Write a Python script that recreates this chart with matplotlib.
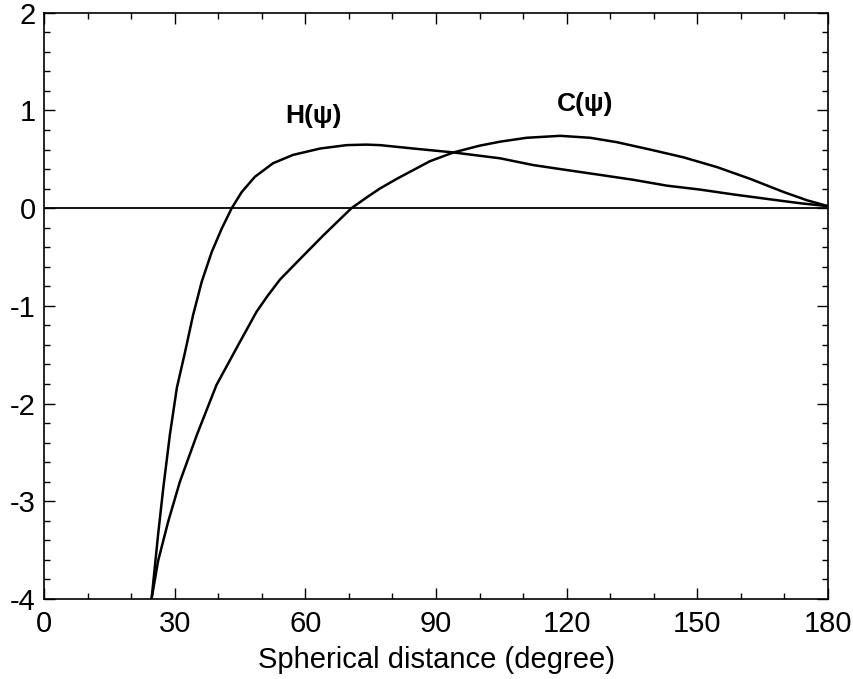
import matplotlib
matplotlib.use("Agg")
import matplotlib.pyplot as plt
from matplotlib.ticker import MultipleLocator

plt.rcParams['font.family'] = ['Liberation Sans', 'DejaVu Sans']
plt.rcParams['axes.unicode_minus'] = False

# Data
h_x = [24.7, 26.2, 27.4, 28.9, 30.5, 32.4, 34.2, 36.2, 38.5, 40.8, 43.1, 45.4,
       48.4, 52.6, 57.2, 63.4, 69.5, 74.0, 77.1, 84.8, 94.0, 104.7, 112.4, 120.0,
       127.7, 135.3, 143.0, 150.6, 158.3, 165.9, 173.6, 180.0]
h_y = [-4.0, -3.34, -2.86, -2.32, -1.84, -1.47, -1.10, -0.755, -0.45, -0.21, 0.0, 0.165,
       0.32, 0.46, 0.545, 0.61, 0.645, 0.65, 0.645, 0.61, 0.57, 0.51, 0.44, 0.39,
       0.34, 0.29, 0.23, 0.19, 0.14, 0.095, 0.05, 0.02]

c_x = [24.7, 26.2, 28.5, 31.2, 35.1, 39.6, 44.6, 48.8, 51.3, 54.2, 58.8, 64.1,
       70.6, 74.1, 77.1, 81.0, 88.6, 94.0, 100.1, 104.7, 110.8, 118.5, 125.4,
       131.5, 139.1, 146.8, 154.5, 162.1, 169.8, 175.2, 180.0]
c_y = [-4.0, -3.61, -3.21, -2.80, -2.32, -1.81, -1.40, -1.06, -0.90, -0.73, -0.52, -0.28,
       0.0, 0.11, 0.20, 0.30, 0.48, 0.57, 0.64, 0.68, 0.72, 0.74, 0.72,
       0.675, 0.60, 0.52, 0.42, 0.30, 0.165, 0.08, 0.02]

x_ticks = [0, 30, 60, 90, 120, 150, 180]
y_ticks = [-4, -3, -2, -1, 0, 1, 2]

fig = plt.figure(figsize=(8.54, 6.79), dpi=100)
ax = fig.add_axes([0.0515, 0.1178, 0.9181, 0.8635])

ax.axhline(0, color='black', lw=1.3)
ax.plot(h_x, h_y, color='black', lw=1.8, solid_joinstyle='round')
ax.plot(c_x, c_y, color='black', lw=1.8, solid_joinstyle='round')

ax.text(61.8, 0.94, 'H(ψ)', ha='center', va='center', fontsize=19, fontweight='bold')
ax.text(124.2, 1.07, 'C(ψ)', ha='center', va='center', fontsize=19, fontweight='bold')

ax.set_xlim(0, 180)
ax.set_ylim(-4, 2)
ax.set_xticks(x_ticks)
ax.set_yticks(y_ticks)
ax.set_xticklabels([str(t) for t in x_ticks])
ax.set_yticklabels([str(t) for t in y_ticks])
ax.xaxis.set_minor_locator(MultipleLocator(10))
ax.yaxis.set_minor_locator(MultipleLocator(0.2))
ax.tick_params(which='both', direction='in', top=True, right=True, labelsize=21, width=1.0)
ax.tick_params(which='major', length=8)
ax.tick_params(which='minor', length=4)
ax.tick_params(axis='x', pad=8)
ax.tick_params(axis='y', pad=6)
for s in ax.spines.values():
    s.set_linewidth(1.2)

ax.set_xlabel('Spherical distance (degree)', fontsize=21, labelpad=6)

fig.savefig('out.png', dpi=100)
